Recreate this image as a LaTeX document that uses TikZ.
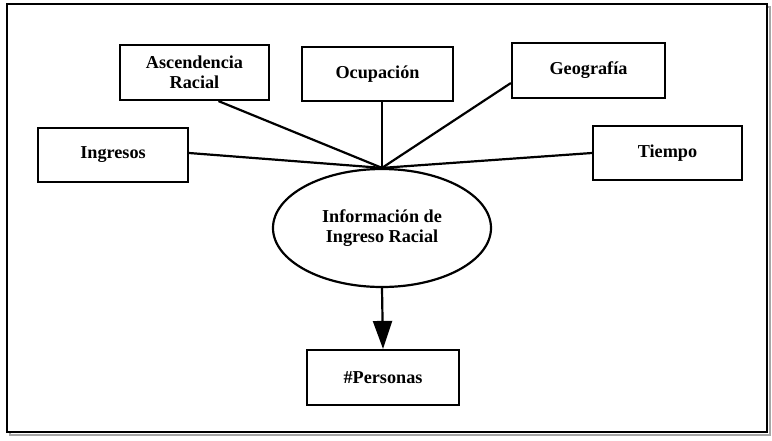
\documentclass[tikz,border=0pt]{standalone}
\usepackage{fontspec}
\setmainfont{Liberation Serif}
\usetikzlibrary{shapes.geometric,arrows.meta,calc}
\begin{document}
\begin{tikzpicture}[x=1pt,y=-1pt,
  lbl/.style={font=\bfseries\fontsize{18.2}{20.5}\selectfont, align=center, text=black},
  boxnode/.style={lbl, draw=black, line width=2.2pt, fill=white, rectangle, inner sep=0pt},
  ellnode/.style={lbl, draw=black, line width=2.2pt, fill=white, ellipse, inner sep=0pt},
  link/.style={line width=2.2pt, draw=black},
  frameline/.style={line width=2pt, draw=black}
]
\useasboundingbox (0,0) rectangle (772,440);
% outer frame with shadow
\draw[line width=2pt, draw=black!35] (10,7) rectangle (770,435);
\draw[frameline, fill=white] (7,4) rectangle (767,432);

\node[boxnode, minimum width=149pt, minimum height=55pt] (asc) at (194.5,72.5) {Ascendencia\\Racial};
\node[boxnode, minimum width=151pt, minimum height=54pt] (ocu) at (377.5,74) {Ocupación};
\node[boxnode, minimum width=153pt, minimum height=55pt] (geo) at (588.5,70.5) {Geografía};
\node[boxnode, minimum width=150pt, minimum height=54pt] (ing) at (113,155) {Ingresos};
\node[boxnode, minimum width=149pt, minimum height=54pt] (tie) at (667.5,153) {Tiempo};
\node[ellnode, minimum width=218pt, minimum height=118pt] (ell) at (382,228) {Información de\\Ingreso Racial};
\node[boxnode, minimum width=152pt, minimum height=55pt] (per) at (383,377.5) {\#Personas};

\draw[link] (ell.north) -- ($(asc.south)+(24,0)$);
\draw[link] (ell.north) -- (ell.north |- ocu.south);
\draw[link] (ell.north) -- ($(geo.west)+(0,12.5)$);
\draw[link] (ell.north) -- ($(ing.east)+(0,-2)$);
\draw[link] (ell.north) -- (tie.west);
\draw[link, -{Triangle[length=28pt,width=19pt]}] (ell.south) -- (per.north);
\end{tikzpicture}
\end{document}
